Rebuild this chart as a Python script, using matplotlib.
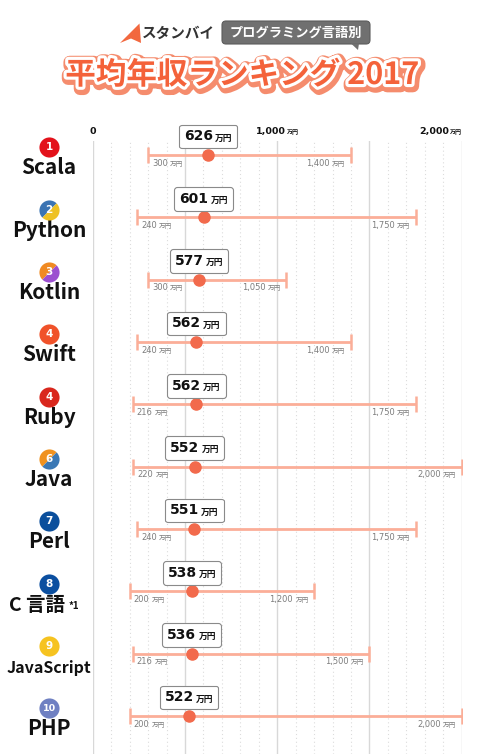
import matplotlib
matplotlib.use('Agg')
import matplotlib.pyplot as plt
import matplotlib.patheffects as pe
from matplotlib.markers import MarkerStyle
from matplotlib.transforms import Affine2D, blended_transform_factory, offset_copy
from matplotlib.offsetbox import TextArea, HPacker, AnnotationBbox
from matplotlib.patches import Polygon, FancyBboxPatch

plt.rcParams['font.family'] = ['Noto Sans CJK JP', 'DejaVu Sans']
NUM_FONT = ['DejaVu Sans', 'Noto Sans CJK JP']

# =========================
# DATA
# =========================
languages = ['Scala', 'Python', 'Kotlin', 'Swift', 'Ruby',
             'Java', 'Perl', 'C 言語', 'JavaScript', 'PHP']
notes = ['', '', '', '', '', '', '', '*1', '', '']
ranks = ['1', '2', '3', '4', '4', '6', '7', '8', '9', '10']
avg_salary = [626, 601, 577, 562, 562, 552, 551, 538, 536, 522]
min_salary = [300, 240, 300, 240, 216, 220, 240, 200, 216, 200]
max_salary = [1400, 1750, 1050, 1400, 1750, 2000, 1750, 1200, 1500, 2000]

# バッジの色 (2色のものは左上 / 右下)
badge_main = ['#e3121b', '#3b74b3', '#f08a22', '#f0522a', '#d9271d',
              '#f0921f', '#0b4f9c', '#0b4fa0', '#f6c320', '#6f80c2']
badge_alt = [None, '#eec123', '#9c4fd0', None, None,
             '#3a78b5', None, None, None, None]

top_ticks = [0, 1000, 2000]
top_tick_labels = ['0', '1,000', '2,000']

# =========================
# FIGURE
# =========================
W, H = 490, 754
fig = plt.figure(figsize=(W / 100, H / 100), dpi=100)

# ヘッダー用 (ピクセル座標)
hdr = fig.add_axes([0, 0, 1, 1])
hdr.set_xlim(0, W)
hdr.set_ylim(H, 0)
hdr.axis('off')

line_c = '#fbae98'
dot_c = '#f26a4c'

# チャート本体
row_px = 62.33
top_px = 141
ax = fig.add_axes([92.7 / W, 0, (461.7 - 92.7) / W, 1 - top_px / H])
ax.set_xlim(0, 2000)
ax.set_ylim((H - 155) / row_px, (top_px - 155) / row_px)
ax.axis('off')

# グリッド
for v in range(0, 2001, 100):
    if v % 500 == 0:
        ax.axvline(v, color='#d8d8d8', lw=1.0, zorder=1)
    else:
        ax.axvline(v, color='#dcdcdc', lw=0.8, ls=(0, (1, 2.5)), zorder=1)


def num_unit(num, unit, s1, s2, color, weight, sep=1):
    return HPacker(children=[
        TextArea(num, textprops=dict(fontsize=s1, weight=weight, color=color,
                                     family=NUM_FONT)),
        TextArea(unit, textprops=dict(fontsize=s2, weight=weight, color=color)),
    ], align='baseline', pad=0, sep=sep)


# 上の目盛り
tick_y = (131.7 - 155) / row_px
for v, lab in zip(top_ticks, top_tick_labels):
    if v == 0:
        ax.text(v, tick_y, lab, ha='center', va='center', fontsize=6.8,
                weight='bold', color='#111111', family=NUM_FONT)
        continue
    align = (0.5, 0.5) if v < 2000 else (1, 0.5)
    ab = AnnotationBbox(num_unit(lab, '万円', 6.8, 4.3, '#111111', 'bold', 0.5),
                        (v, tick_y), box_alignment=align, frameon=False,
                        pad=0, annotation_clip=False)
    ax.add_artist(ab)

trans_left = blended_transform_factory(fig.transFigure, ax.transData)
tail_tr = offset_copy(ax.transData, fig=fig, x=0, y=8.3, units='points')

for i, name in enumerate(languages):
    mn, mx, av = min_salary[i], max_salary[i], avg_salary[i]

    # レンジ
    ax.plot([mn, mx], [i, i], color=line_c, lw=2, solid_capstyle='butt', zorder=3)
    ax.plot([mn, mx], [i, i], ls='none', marker='|', ms=12, mew=1.8,
            color=line_c, zorder=3)
    ax.plot(av, i, marker='o', ms=8, color=dot_c, zorder=5)

    # 最小・最大ラベル
    ab = AnnotationBbox(num_unit(f'{mn}', '万円', 6, 4.8, '#7d7d7d', 'normal', 1.5),
                        (mn, i), xybox=(3, -6), boxcoords='offset points',
                        box_alignment=(0, 0.5), frameon=False, pad=0,
                        annotation_clip=False)
    ax.add_artist(ab)
    ab = AnnotationBbox(num_unit(f'{mx:,}', '万円', 6, 4.8, '#7d7d7d', 'normal', 1.5),
                        (mx, i), xybox=(-4, -6), boxcoords='offset points',
                        box_alignment=(1, 0.5), frameon=False, pad=0,
                        annotation_clip=False)
    ax.add_artist(ab)

    # 平均値の吹き出し
    ax.plot(av, i, marker='v', ms=5, mfc='white', mec='#8a8a8a', mew=0.8,
            transform=tail_tr, zorder=5.5, clip_on=False)
    ab = AnnotationBbox(num_unit(f'{av}', '万円', 10, 6.3, '#111111', 'bold', 1.5),
                        (av, i), xybox=(0, 8.3), boxcoords='offset points',
                        box_alignment=(0.5, 0), frameon=True, pad=0.35,
                        bboxprops=dict(boxstyle='round,pad=0.35,rounding_size=0.2',
                                       fc='white', ec='#8a8a8a', lw=0.8),
                        annotation_clip=False, zorder=6)
    ax.add_artist(ab)
    ax.plot(av, i, marker='v', ms=3.6, mfc='white', mec='none',
            transform=offset_copy(ax.transData, fig=fig, x=0, y=8.6, units='points'),
            zorder=7, clip_on=False)

    # 順位バッジ
    if badge_alt[i] is None:
        ax.plot(49 / W, i - 0.123, marker='o', ms=14.5, color=badge_main[i],
                mec='none', transform=trans_left, clip_on=False, zorder=4)
    else:
        m = MarkerStyle('o', fillstyle='top', transform=Affine2D().rotate_deg(45))
        ax.plot(49 / W, i - 0.123, marker=m, ms=14.5, mfc=badge_main[i],
                mfcalt=badge_alt[i], mec='none', transform=trans_left,
                clip_on=False, zorder=4)
    ax.text(49 / W, i - 0.123, ranks[i], transform=trans_left, ha='center',
            va='center', fontsize=7.5 if len(ranks[i]) == 1 else 6.8,
            weight='bold', color='white', zorder=5, family=NUM_FONT)

    # 言語名
    size = 11.5 if name == 'JavaScript' else 15
    x_name = 49
    if notes[i]:
        size = 14
        x_name = 37
    ax.text(x_name / W, i + 0.31, name, transform=trans_left, ha='center',
            va='baseline', fontsize=size, weight='bold', color='#111111')
    if notes[i]:
        ax.text(68.5 / W, i + 0.29, notes[i], transform=trans_left, ha='left',
                va='baseline', fontsize=7, weight='bold', color='#111111')

# =========================
# HEADER
# =========================
hdr.add_patch(Polygon([(139.5, 23.5), (120, 43), (131, 38.5), (141, 43)],
                      closed=True, fc='#f2683f', ec='none'))
hdr.text(178, 33, 'スタンバイ', ha='center', va='center', fontsize=10.5,
         weight='bold', color='#333333')

hdr.add_patch(FancyBboxPatch((222, 21), 148, 23,
                             boxstyle='round,pad=0,rounding_size=4',
                             fc='#707070', ec='#5c5c5c', lw=0.8))
hdr.add_patch(Polygon([(351, 43.5), (359, 43.5), (358, 50)], closed=True,
                      fc='#707070', ec='none'))
hdr.text(296, 32.5, 'プログラミング言語別', ha='center', va='center',
         fontsize=9.5, weight='bold', color='white')

hdr.text(242, 75, '平均年収ランキング 2017', ha='center', va='center',
         fontsize=22, weight='bold', color='#f4623a',
         path_effects=[pe.Stroke(linewidth=9, foreground='#f58c6d', offset=(1, -1.5)),
                       pe.Stroke(linewidth=4.5, foreground='white'),
                       pe.Normal()])

fig.savefig('out.png', dpi=100)
